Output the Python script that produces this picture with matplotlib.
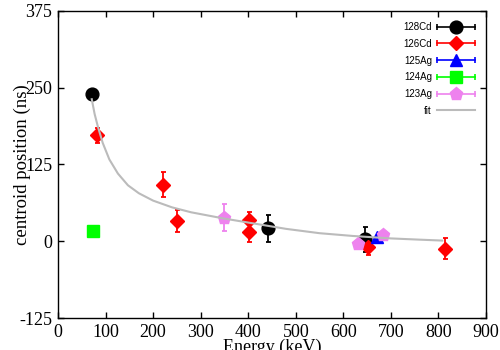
import matplotlib
matplotlib.use("Agg")
import matplotlib.pyplot as plt
from matplotlib.lines import Line2D
from matplotlib.legend_handler import HandlerBase
from matplotlib.container import ErrorbarContainer

plt.rcParams["axes.unicode_minus"] = False

# ---- data ----
cd128_E = [71, 441, 646]
cd128_y = [240, 21, 3]
cd128_err = [0, 22, 20]

cd126_E = [83, 221, 251, 402, 402, 651, 814]
cd126_y = [172, 92, 33, 35, 15, -10, -12]
cd126_err = [12, 20, 18, 13, 17, 12, 17]

ag125_E = [670]
ag125_y = [6]
ag125_err = [0]

ag124_E = [74]
ag124_y = [17]
ag124_err = [0]

ag123_E = [349, 630, 684]
ag123_y = [38, -5, 10]
ag123_err = [22, 0, 0]

fit_E = [71, 77, 84, 94, 108, 126, 147, 170, 200, 240, 280, 348, 418, 480, 550, 620, 700, 760, 808]
fit_y = [231, 207, 186, 160, 133, 110, 91, 78, 66, 55, 47, 37, 28, 20, 13, 8.5, 4.5, 2.5, 1]

xticks = [0, 100, 200, 300, 400, 500, 600, 700, 800, 900]
yticks = [-125, 0, 125, 250, 375]

series = [
    ("128Cd", cd128_E, cd128_y, cd128_err, "black", "o", 9.2),
    ("126Cd", cd126_E, cd126_y, cd126_err, "#ff0000", "D", 7.0),
    ("125Ag", ag125_E, ag125_y, ag125_err, "#0000ff", "^", 8.0),
    ("124Ag", ag124_E, ag124_y, ag124_err, "#00ff00", "s", 9.0),
    ("123Ag", ag123_E, ag123_y, ag123_err, "#ee82ee", "p", 9.5),
]


class GnuErrHandler(HandlerBase):
    def create_artists(self, legend, orig, xd, yd, w, h, fs, trans):
        ln = orig[0]
        c = ln.get_color()
        y = h / 2.0 - yd
        x0, x1 = -xd, -xd + w
        line = Line2D([x0, x1], [y, y], color=c, lw=1.2)
        caps = Line2D([x0, x1], [y, y], ls="none", marker="|", ms=4, mew=1.2, color=c)
        mk = Line2D([(x0 + x1) / 2.0], [y], ls="none", marker=ln.get_marker(),
                    ms=ln.get_markersize(), color=c, mec=c)
        for a in (line, caps, mk):
            a.set_transform(trans)
        return [line, caps, mk]


fig = plt.figure(figsize=(5, 3.5), dpi=100)
ax = fig.add_axes([0.116, 0.0914, 0.856, 0.878])

handles = []
for lab, xs, ys, es, col, mk, ms in series:
    h = ax.errorbar(xs, ys, yerr=es, fmt=mk, color=col, ms=ms, mec=col,
                    elinewidth=1.3, capsize=1.8, capthick=1.3, label=lab)
    handles.append(h)

fl, = ax.plot(fit_E, fit_y, color="#bbbbbb", lw=1.5, label="fit", zorder=5)
handles.append(fl)

ax.set_xlim(0, 900)
ax.set_ylim(-125, 375)
ax.set_xticks(xticks)
ax.set_yticks(yticks)
ax.tick_params(direction="in", length=4, width=1, top=True, right=True,
               labelsize=13, pad=4)
for lbl in ax.get_xticklabels() + ax.get_yticklabels():
    lbl.set_family("Liberation Serif")
for s in ax.spines.values():
    s.set_linewidth(1.0)

ax.set_xlabel("Energy (keV)", family="Liberation Serif", fontsize=13, labelpad=-1)
ax.set_ylabel("centroid position (ns)", family="Liberation Serif", fontsize=13.5, labelpad=-8)

leg = ax.legend(handles=handles, loc="upper right", frameon=False, markerfirst=False,
                prop={"family": "Liberation Sans", "size": 7}, handlelength=3.9,
                labelspacing=0.69, handletextpad=0.5, borderaxespad=0.77,
                handler_map={ErrorbarContainer: GnuErrHandler()})

fig.savefig("out.png", dpi=100)
